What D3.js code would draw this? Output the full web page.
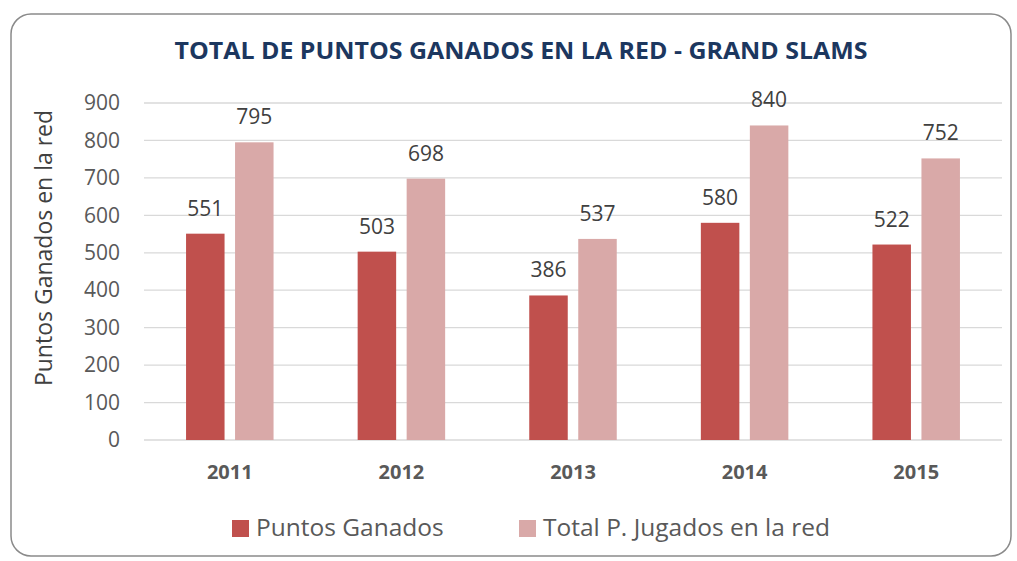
<!DOCTYPE html>
<html>
<head>
<meta charset="utf-8">
<script src="https://cdn.jsdelivr.net/npm/d3@7"></script>
<style>
  body { margin: 0; background: #fff; }
  svg { display: block; font-family: "Open Sans", "Noto Sans", sans-serif; }
</style>
</head>
<body>
<div id="chart"></div>
<script>
// chart data
var years = ['2011', '2012', '2013', '2014', '2015'];
var puntosGanados = [551, 503, 386, 580, 522];
var totalJugados = [795, 698, 537, 840, 752];
var yTicks = [0, 100, 200, 300, 400, 500, 600, 700, 800, 900];
var seriesNames = ['Puntos Ganados', 'Total P. Jugados en la red'];

var width = 1017, height = 561;
var margin = { top: 103, left: 144, right: 15, bottom: 121 };
var colors = ['#c0504d', '#d9a9a8'];

var svg = d3.select('#chart').append('svg')
    .attr('width', width)
    .attr('height', height);

// outer frame
svg.append('rect')
    .attr('x', 11).attr('y', 14)
    .attr('width', 1000).attr('height', 542)
    .attr('rx', 20).attr('ry', 20)
    .attr('fill', '#fff')
    .attr('stroke', '#8a8a8a')
    .attr('stroke-width', 1.5);

svg.append('text')
    .attr('x', 521).attr('y', 59)
    .attr('text-anchor', 'middle')
    .attr('fill', '#1c375f')
    .style('font-weight', 'bold')
    .style('font-size', '22.5px')
    .attr('textLength', 693)
    .attr('lengthAdjust', 'spacingAndGlyphs')
    .text('TOTAL DE PUNTOS GANADOS EN LA RED - GRAND SLAMS');

var plotW = 1002 - margin.left,
    plotH = 440 - margin.top;

var g = svg.append('g')
    .attr('transform', 'translate(' + margin.left + ',' + margin.top + ')');

var x = d3.scaleBand().domain(years).range([0, plotW]);
var y = d3.scaleLinear().domain([0, 900]).range([plotH, 0]);
var barW = 38.5, barGap = 10.5;

// gridlines
g.selectAll('.grid')
    .data(yTicks)
    .enter().append('line')
    .attr('x1', 0).attr('x2', plotW)
    .attr('y1', function (d) { return y(d); })
    .attr('y2', function (d) { return y(d); })
    .attr('stroke', '#d9d9d9')
    .attr('stroke-width', 1.3);

// y axis labels
var yAxis = d3.axisLeft(y).tickValues(yTicks).tickSize(0).tickPadding(24);
g.append('g').call(yAxis)
    .call(function (s) { s.select('.domain').remove(); })
    .selectAll('text')
    .attr('fill', '#595959')
    .style('font-size', '21px')
    .style('font-family', '"Open Sans", sans-serif');

// x axis labels
var xAxis = d3.axisBottom(x).tickSize(0).tickPadding(25);
g.append('g').attr('transform', 'translate(0,' + plotH + ')').call(xAxis)
    .call(function (s) { s.select('.domain').remove(); })
    .selectAll('text')
    .attr('fill', '#595959')
    .style('font-size', '20px')
    .style('font-weight', 'bold')
    .style('font-family', '"Open Sans", sans-serif');

var series = [puntosGanados, totalJugados];
series.forEach(function (vals, si) {
    var offset = si === 0 ? -barGap / 2 - barW : barGap / 2;
    var grp = g.append('g');
    grp.selectAll('rect')
        .data(vals)
        .enter().append('rect')
        .attr('x', function (d, i) { return x(years[i]) + x.bandwidth() / 2 + offset; })
        .attr('y', function (d) { return y(d); })
        .attr('width', barW)
        .attr('height', function (d) { return plotH - y(d); })
        .attr('fill', colors[si]);
    grp.selectAll('text')
        .data(vals)
        .enter().append('text')
        .attr('x', function (d, i) { return x(years[i]) + x.bandwidth() / 2 + offset + barW / 2; })
        .attr('y', function (d) { return y(d) - 18; })
        .attr('text-anchor', 'middle')
        .attr('fill', '#404040')
        .style('font-size', '21px')
        .text(function (d) { return d; });
});

// y axis title
svg.append('text')
    .attr('transform', 'translate(52,248) rotate(-90)')
    .attr('text-anchor', 'middle')
    .attr('fill', '#404040')
    .style('font-size', '23px')
    .text('Puntos Ganados en la red');

// legend
var legendX = [232, 519];
seriesNames.forEach(function (name, i) {
    svg.append('rect')
        .attr('x', legendX[i]).attr('y', 520)
        .attr('width', 17).attr('height', 17)
        .attr('fill', colors[i]);
    svg.append('text')
        .attr('x', legendX[i] + 24).attr('y', 536)
        .attr('fill', '#595959')
        .style('font-size', '24.5px')
        .text(name);
});
</script>
</body>
</html>
